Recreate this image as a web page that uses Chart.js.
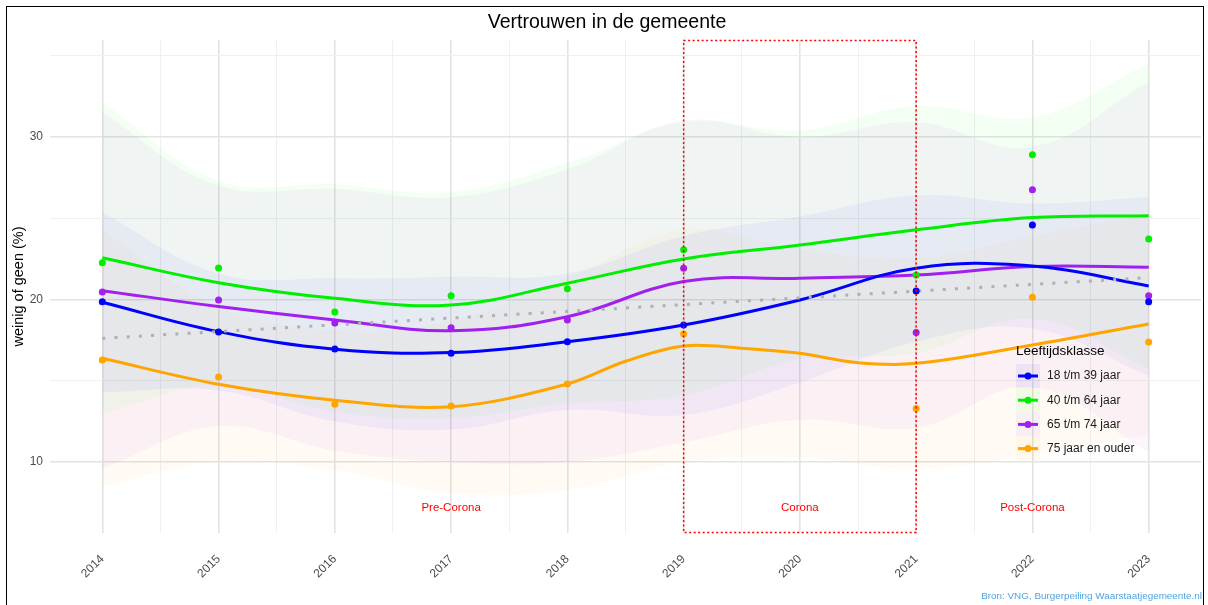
<!DOCTYPE html>
<html>
<head>
<meta charset="utf-8">
<script src="https://cdn.jsdelivr.net/npm/chart.js@4.4.1/dist/chart.umd.min.js"></script>
<style>
  html, body { margin: 0; padding: 0; background: #ffffff; }
  #wrap { position: relative; width: 1208px; height: 605px; overflow: hidden; }
  #frame { position: absolute; left: 6px; top: 6px; width: 1198px; height: 640px; border: 1px solid #000; box-sizing: border-box; pointer-events: none; }
  #src { position: absolute; right: 6px; top: 590px; font: 9.9px "Liberation Sans", Arial, sans-serif; color: #4da6e0; white-space: nowrap; }
</style>
</head>
<body>
<div id="wrap">
  <canvas id="c" width="1208" height="605"></canvas>
  <div id="frame"></div>
  <div id="src">Bron: VNG, Burgerpeiling Waarstaatjegemeente.nl</div>
</div>
<script>
// ---------------- DATA ----------------
const chartTitle = 'Vertrouwen in de gemeente';
const yAxisTitle = 'weinig of geen (%)';
const legendTitle = 'Leeftijdsklasse';
const seriesLabels = ['18 t/m 39 jaar', '40 t/m 64 jaar', '65 t/m 74 jaar', '75 jaar en ouder'];

// years with observations (no survey in 2020)
const obsYears = [2014, 2015, 2016, 2017, 2018, 2019, 2021, 2022, 2023];
const obs18_39  = [19.85, 18.00, 16.96, 16.69, 17.40, 18.43, 20.52, 24.58, 19.85];
const obs40_64  = [22.25, 21.94, 19.23, 20.23, 20.65, 23.05, 21.50, 28.89, 23.72];
const obs65_74  = [20.46, 19.97, 18.55, 18.26, 18.74, 21.92, 17.96, 26.74, 20.23];
const obs75plus = [16.28, 15.23, 13.55, 13.45, 14.80, 17.88, 13.30, 20.14, 17.38];

// smoothed (loess) curves
const fitYears = [2014, 2015, 2016, 2017, 2018, 2019, 2020, 2021, 2022, 2023];
const fit18_39  = [19.83, 18.02, 16.94, 16.73, 17.40, 18.43, 19.97, 21.92, 22.05, 20.83];
const fit40_64  = [22.56, 21.03, 20.07, 19.66, 21.00, 22.49, 23.35, 24.28, 25.03, 25.14];
const fit65_74  = [20.54, 19.56, 18.74, 18.08, 18.94, 21.10, 21.30, 21.50, 22.02, 21.98];
const fit75Years = [2014, 2015, 2016, 2017, 2018, 2018.5, 2019, 2019.5, 2020, 2020.5, 2021, 2022, 2023];
const fit75plus = [16.38, 14.78, 13.80, 13.40, 14.80, 16.20, 17.14, 17.00, 16.69, 16.11, 16.07, 17.20, 18.49];

// confidence bands (per year)
const upper18_39  = [25.35, 21.60, 21.30, 21.40, 21.60, 23.90, 25.10, 26.40, 25.90, 26.30];
const lower18_39  = [14.30, 14.40, 12.50, 12.00, 13.20, 12.90, 14.90, 17.40, 18.20, 15.30];
const upper40_64  = [32.10, 27.30, 27.10, 26.60, 28.40, 30.90, 30.40, 31.90, 31.20, 34.50];
const lower40_64  = [13.00, 14.70, 13.10, 12.70, 13.60, 14.10, 16.30, 16.70, 18.80, 15.70];
const upper65_74  = [31.50, 27.00, 26.80, 26.30, 28.00, 31.00, 30.00, 30.90, 29.40, 33.40];
const lower65_74  = [ 9.60, 12.20, 10.70, 10.00, 10.00, 11.20, 12.60, 12.10, 14.60, 10.60];
const upper75plus = [24.26, 19.56, 18.10, 18.70, 21.30, 24.28, 23.08, 22.54, 23.90, 25.28];
const lower75plus = [ 8.50, 10.00,  9.50,  8.10,  8.30, 10.00, 10.30,  9.60, 10.50, 11.70];

// overall linear trend (dotted grey)
const trendYears  = [2014, 2023];
const trendValues = [17.61, 21.34];

// periods
const periodLabels = ['Pre-Corona', 'Corona', 'Post-Corona'];
const periodLabelYears = [2017, 2020, 2022];
const coronaStartEnd = [2019, 2021];

// ticks
const xTickLabels = ['2014','2015','2016','2017','2018','2019','2020','2021','2022','2023'];
const yTickLabels = [10, 20, 30];
const yMinorTicks = [15, 25, 35];

// ---------------- STYLE ----------------
const FONT = "'Liberation Sans', Arial, Helvetica, sans-serif";
const seriesColors = ['#0000ff', '#00ee00', '#a020f0', '#ffa500'];
const bandRGB = ['0,0,255', '0,255,0', '160,32,240', '255,165,0'];
const bandAlpha = 0.045;
const periodLabelValue = 7.2;

const obsSets = [obs18_39, obs40_64, obs65_74, obs75plus];
const fitSets = [fit18_39, fit40_64, fit65_74, fit75plus];
const fitYearSets = [fitYears, fitYears, fitYears, fit75Years];
const upperSets = [upper18_39, upper40_64, upper65_74, upper75plus];
const lowerSets = [lower18_39, lower40_64, lower65_74, lower75plus];

const pts = (xs, ys) => xs.map((x, i) => ({ x: x, y: ys[i] }));

const datasets = [];
// bands
for (let s = 0; s < 4; s++) {
  datasets.push({
    type: 'line', label: 'band-up-' + s, data: pts(fitYears, upperSets[s]),
    borderWidth: 0, borderColor: 'rgba(0,0,0,0)', pointRadius: 0, fill: false, tension: 0.4, order: 10
  });
  datasets.push({
    type: 'line', label: 'band-lo-' + s, data: pts(fitYears, lowerSets[s]),
    borderWidth: 0, borderColor: 'rgba(0,0,0,0)', pointRadius: 0, tension: 0.4, order: 10,
    fill: '-1', backgroundColor: 'rgba(' + bandRGB[s] + ',' + bandAlpha + ')'
  });
}
// fitted lines
for (let s = 0; s < 4; s++) {
  datasets.push({
    type: 'line', label: seriesLabels[s], data: pts(fitYearSets[s], fitSets[s]),
    borderColor: seriesColors[s], borderWidth: 3, pointRadius: 0, fill: false,
    tension: s === 3 ? 0.35 : 0.4, order: 3
  });
}
// trend
datasets.push({
  type: 'line', label: 'trend', data: pts(trendYears, trendValues),
  borderColor: '#b0b0b0', borderWidth: 3, borderDash: [3, 9.2], borderCapStyle: 'butt',
  pointRadius: 0, fill: false, order: 2
});
// observations
for (let s = 0; s < 4; s++) {
  datasets.push({
    type: 'line', label: 'obs-' + s, data: pts(obsYears, obsSets[s]), showLine: false,
    pointRadius: 3.5, pointBackgroundColor: seriesColors[s], pointBorderWidth: 0, order: 0
  });
}

const overlayPlugin = {
  id: 'overlay',
  afterDatasetsDraw(chart) {
    const ctx = chart.ctx, xs = chart.scales.x, ys = chart.scales.y, ca = chart.chartArea;
    ctx.save();
    const x1 = xs.getPixelForValue(coronaStartEnd[0]);
    const x2 = xs.getPixelForValue(coronaStartEnd[1]);
    ctx.strokeStyle = '#ff0000';
    ctx.lineWidth = 1.5;
    ctx.setLineDash([2, 2.5]);
    ctx.strokeRect(x1, ca.top + 0.5, x2 - x1, ca.bottom - ca.top - 1);
    ctx.setLineDash([]);
    ctx.fillStyle = '#ff0000';
    ctx.font = '11.5px ' + FONT;
    ctx.textAlign = 'center';
    ctx.textBaseline = 'middle';
    const py = ys.getPixelForValue(periodLabelValue);
    periodLabels.forEach((t, i) => ctx.fillText(t, xs.getPixelForValue(periodLabelYears[i]), py));
    ctx.restore();
  },
  afterDraw(chart) {
    const ctx = chart.ctx;
    ctx.save();
    const lx = 1016, ly = 351;
    ctx.fillStyle = '#000';
    ctx.font = '13.5px ' + FONT;
    ctx.textAlign = 'left';
    ctx.textBaseline = 'middle';
    ctx.fillText(legendTitle, lx, ly);
    for (let s = 0; s < 4; s++) {
      const cy = 376 + 24.2 * s;
      ctx.fillStyle = 'rgba(' + bandRGB[s] + ',0.06)';
      ctx.fillRect(lx, cy - 12, 24, 24);
      ctx.strokeStyle = seriesColors[s];
      ctx.lineWidth = 3;
      ctx.beginPath(); ctx.moveTo(lx + 2, cy); ctx.lineTo(lx + 22, cy); ctx.stroke();
      ctx.fillStyle = seriesColors[s];
      ctx.beginPath(); ctx.arc(lx + 12, cy, 3.5, 0, Math.PI * 2); ctx.fill();
      ctx.fillStyle = '#1a1a1a';
      ctx.font = '12px ' + FONT;
      ctx.fillText(seriesLabels[s], lx + 31, cy);
    }
    ctx.restore();
  }
};

const xGrid = [];
xTickLabels.forEach((t, i) => { const v = Number(t); xGrid.push(v); if (i < xTickLabels.length - 1) xGrid.push(v + 0.5); });
const yGrid = yTickLabels.concat(yMinorTicks).sort((a, b) => a - b);

Chart.defaults.font.family = FONT;

new Chart(document.getElementById('c'), {
  type: 'line',
  data: { datasets: datasets },
  options: {
    responsive: false,
    animation: false,
    devicePixelRatio: 1,
    layout: { padding: { left: 13, right: 7, top: 0, bottom: 0 } },
    plugins: {
      legend: { display: false },
      tooltip: { enabled: false },
      title: {
        display: true, text: chartTitle, color: '#000',
        font: { size: 19.5, weight: 'normal', family: FONT },
        padding: { top: 10.5, bottom: 6.1 }
      }
    },
    scales: {
      x: {
        type: 'linear', min: 2013.55, max: 2023.45,
        afterBuildTicks: (sc) => { sc.ticks = xGrid.map(v => ({ value: v })); },
        afterFit: (sc) => { sc.height = 72; },
        border: { display: false },
        grid: {
          drawTicks: false,
          color: (c) => Number.isInteger(c.tick.value) ? '#e3e3e3' : '#f0f0f0',
          lineWidth: (c) => Number.isInteger(c.tick.value) ? 1.6 : 1
        },
        ticks: {
          autoSkip: false, maxRotation: 45, minRotation: 45, padding: 19,
          color: '#4d4d4d', font: { size: 12 },
          callback: (v) => { const i = xTickLabels.indexOf(String(v)); return i >= 0 ? xTickLabels[i] : ''; }
        }
      },
      y: {
        min: 5.64, max: 35.95,
        afterBuildTicks: (sc) => { sc.ticks = yGrid.map(v => ({ value: v })); },
        afterFit: (sc) => { sc.width = 37; },
        border: { display: false },
        grid: {
          drawTicks: false,
          color: (c) => yTickLabels.includes(c.tick.value) ? '#e3e3e3' : '#f0f0f0',
          lineWidth: (c) => yTickLabels.includes(c.tick.value) ? 1.6 : 1
        },
        ticks: {
          padding: 7, color: '#4d4d4d', font: { size: 12 },
          callback: (v) => yTickLabels.includes(v) ? String(v) : ''
        },
        title: {
          display: true, text: yAxisTitle, color: '#000',
          font: { size: 14.5, family: FONT }, padding: { top: -3, bottom: 0 }
        }
      }
    }
  },
  plugins: [overlayPlugin]
});
</script>
</body>
</html>
